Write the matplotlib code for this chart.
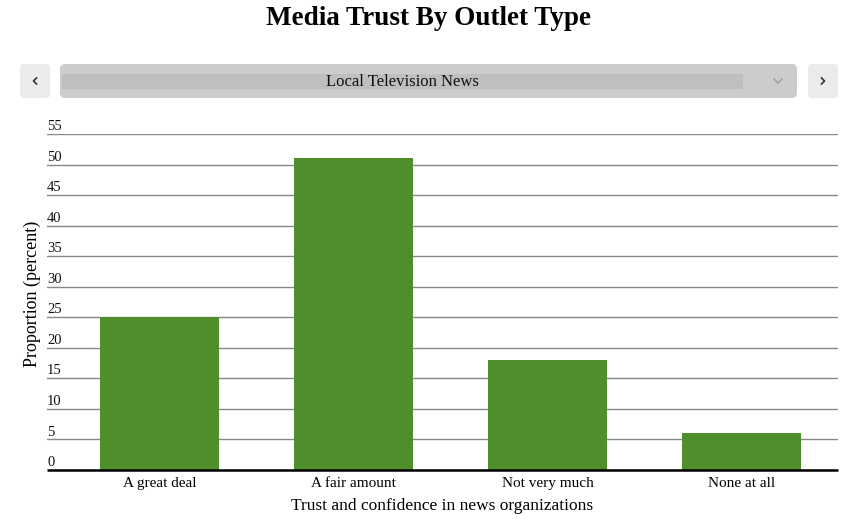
import matplotlib
matplotlib.use("Agg")
import matplotlib.pyplot as plt
from matplotlib.patches import FancyBboxPatch, Rectangle

categories = ["A great deal", "A fair amount", "Not very much", "None at all"]
values = [25, 51, 18, 6]
yticks = [0, 5, 10, 15, 20, 25, 30, 35, 40, 45, 50, 55]
title = "Media Trust By Outlet Type"
selected = "Local Television News"
xlabel = "Trust and confidence in news organizations"
ylabel = "Proportion (percent)"

W, H = 866, 524
plt.rcParams['font.family'] = ['Liberation Serif', 'DejaVu Serif']
fig = plt.figure(figsize=(W / 100, H / 100), dpi=100)

def fx(px):
    return px / W

def fy(py):
    return 1 - py / H

# axes
ax = fig.add_axes([fx(47), fy(470), fx(838) - fx(47), fy(134) - fy(470)])
ax.bar(range(len(categories)), values, width=0.614, color="#4f8f2b", zorder=2)
ax.set_xlim(-0.583, 3.5)
ax.set_ylim(0, 55)
for s in ["top", "right", "left"]:
    ax.spines[s].set_visible(False)
ax.spines["bottom"].set_linewidth(1.8)
ax.spines["bottom"].set_color("black")
ax.spines["bottom"].set_capstyle("butt")
ax.set_yticks(yticks)
ax.yaxis.grid(True, color="#888888", linewidth=1.0, zorder=0)
ax.set_axisbelow(True)
ax.tick_params(axis="y", length=0, labelleft=False)
for t in yticks:
    ax.text(0.0, t + 0.15, str(t), transform=ax.get_yaxis_transform(),
            ha="left", va="bottom", fontsize=10.5, color="#111111")
ax.set_xticks(range(len(categories)))
ax.set_xticklabels(categories, fontsize=11)
ax.tick_params(axis="x", length=0, pad=5)
ax.set_xlabel(xlabel, fontsize=12.5, labelpad=6)
fig.text(fx(32), fy(294), ylabel, rotation=90, ha="center", va="center", fontsize=13)

# title
fig.text(fx(428), fy(18.5), title, ha="center", va="center", fontsize=19.5, fontweight="bold")

# dropdown UI
ui = fig.add_axes([0, 0, 1, 1], facecolor="none")
ui.set_xlim(0, W)
ui.set_ylim(H, 0)
ui.axis("off")
ui.add_patch(FancyBboxPatch((20, 64), 30, 34, boxstyle="round,pad=0,rounding_size=4",
                            facecolor="#ebebeb", edgecolor="none"))
ui.add_patch(FancyBboxPatch((808, 64), 30, 34, boxstyle="round,pad=0,rounding_size=4",
                            facecolor="#ebebeb", edgecolor="none"))
ui.add_patch(FancyBboxPatch((60, 64), 737, 34, boxstyle="round,pad=0,rounding_size=5",
                            facecolor="#cccccc", edgecolor="none"))
ui.add_patch(Rectangle((62, 74), 681, 15, facecolor="#bfbfbf", edgecolor="none"))
ui.plot([36.5, 33.5, 36.5], [78, 81, 84], color="#333333", linewidth=1.2)
ui.plot([821.5, 824.5, 821.5], [78, 81, 84], color="#333333", linewidth=1.2)
ui.plot([774, 778, 782], [79, 83, 79], color="#999999", linewidth=1)
ui.text(402, 82, selected, ha="center", va="center", fontsize=12, color="#111111")

fig.savefig("out.png", dpi=100)
